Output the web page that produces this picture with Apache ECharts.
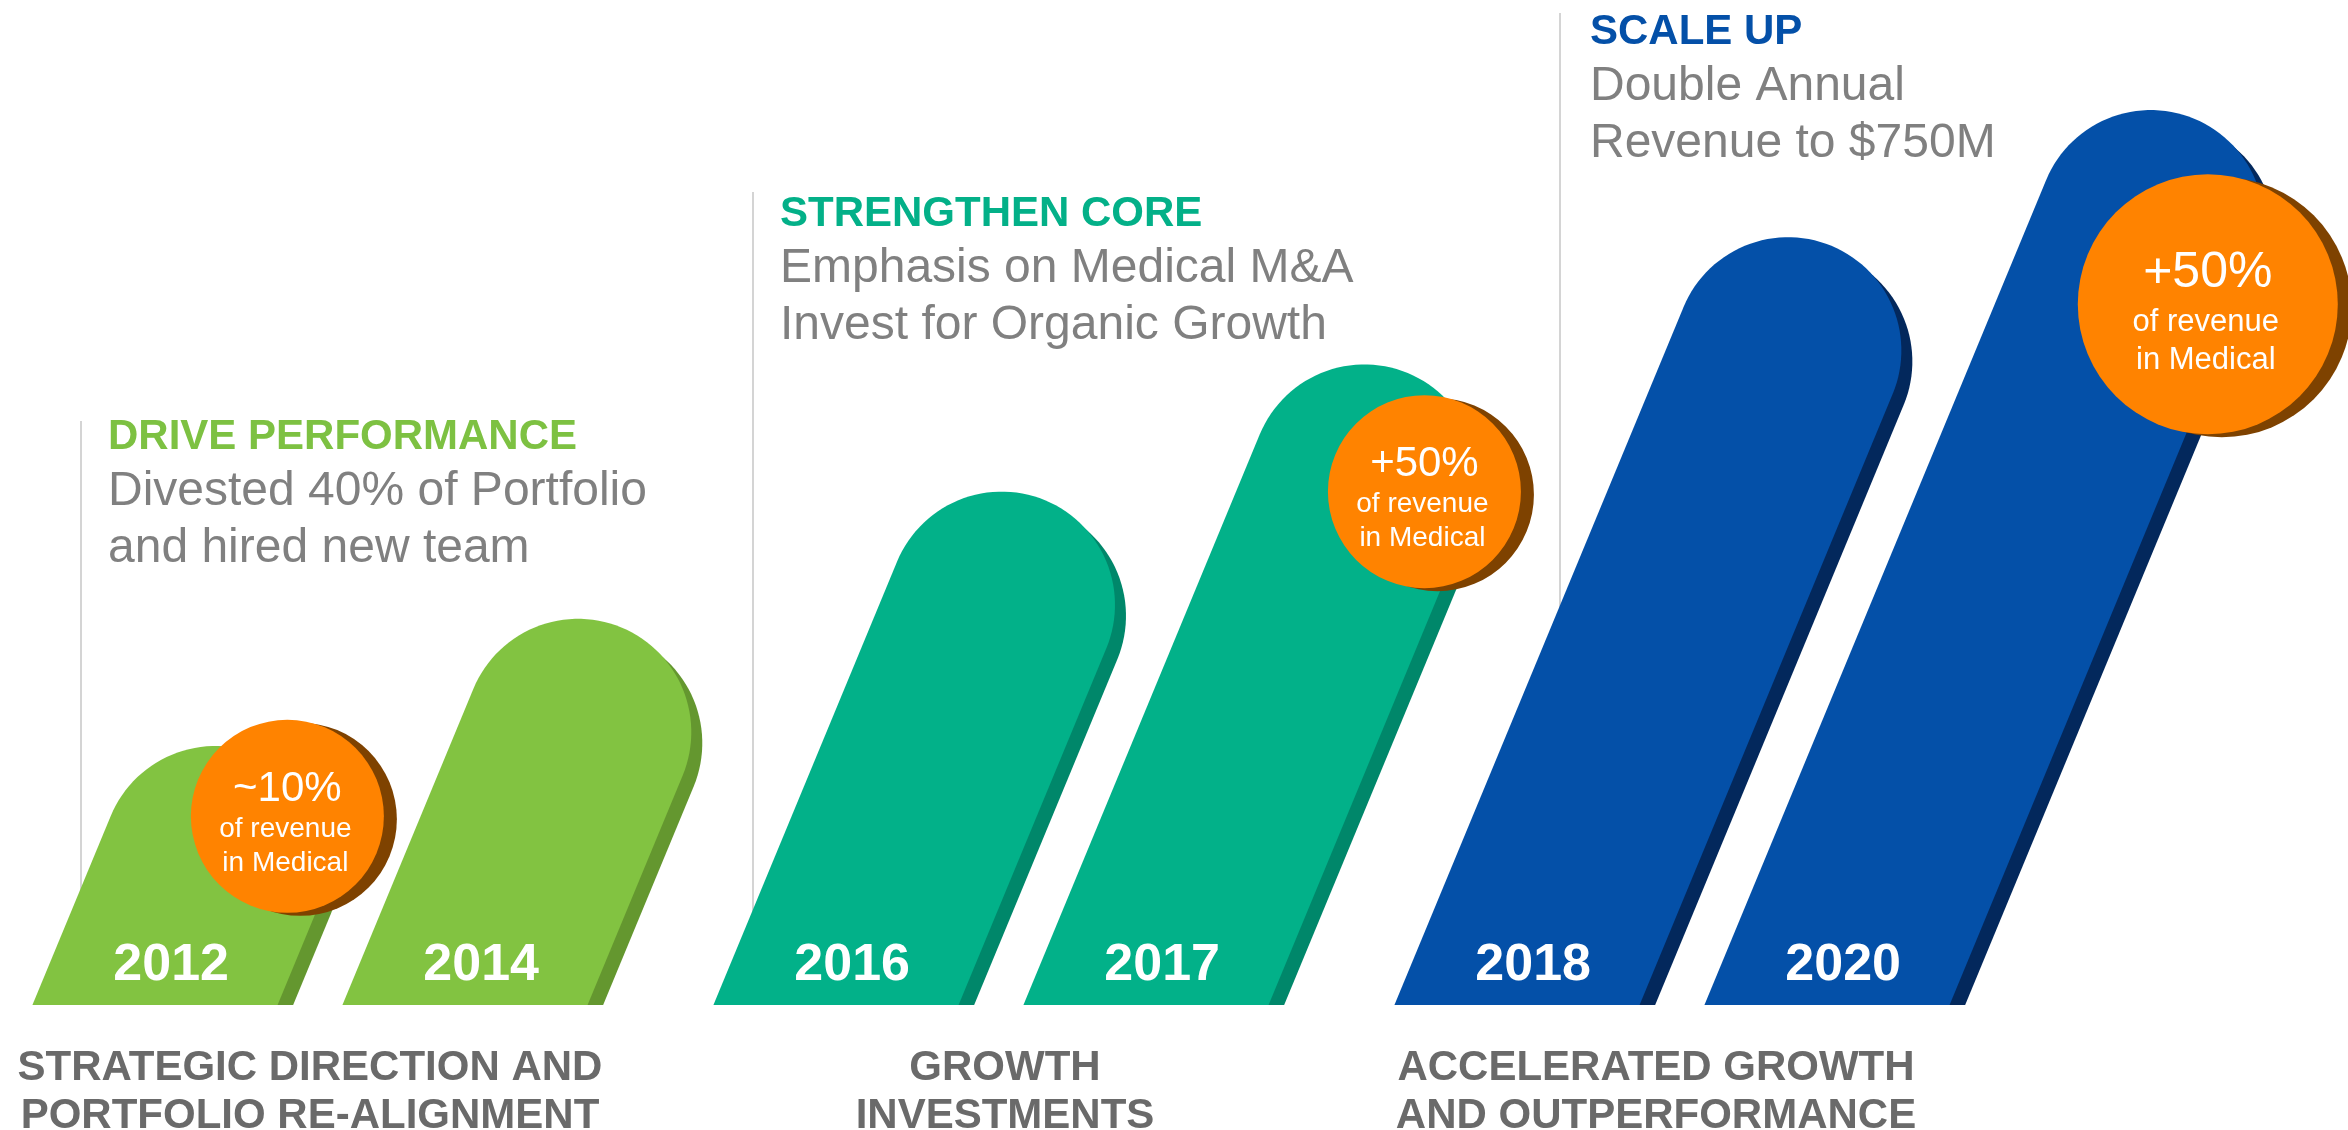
<!DOCTYPE html>
<html>
<head>
<meta charset="utf-8">
<script src="https://cdn.jsdelivr.net/npm/echarts@6/dist/echarts.min.js"></script>
<style>
  html, body { margin: 0; padding: 0; background: #fff; }
  #chart { width: 2348px; height: 1130px; }
</style>
</head>
<body>
<div id="chart"></div>
<script>
// phases along the bottom axis
var phases = ['STRATEGIC DIRECTION AND\nPORTFOLIO RE-ALIGNMENT', 'GROWTH\nINVESTMENTS', 'ACCELERATED GROWTH\nAND OUTPERFORMANCE']
var headings = ['DRIVE PERFORMANCE', 'STRENGTHEN CORE', 'SCALE UP']
var details = [
    ['Divested 40% of Portfolio', 'and hired new team'],
    ['Emphasis on Medical M&A', 'Invest for Organic Growth'],
    ['Double Annual', 'Revenue to $750M']
]

// one bar per year, grouped by phase
var years = ['2012', '2014', '2016', '2017', '2018', '2020']
var yearPhase = [0, 0, 1, 1, 2, 2]
var heights = [2, 3, 4, 5, 6, 7]
var badgeValues = ['~10%', '', '', '+50%', '', '+50%']
var badgeLines = ['of revenue', 'in Medical']

// colours, one per phase
var faceColors = ['#82C341', '#02B189', '#0450A8']
var sideColors = ['#64972F', '#00876A', '#03285C']
var headColors = ['#7DC142', '#03B088', '#0450A8']

// layout of the annotations (pixels)
var headingLayout = [
    { lineX: 81, lineTop: 421, textX: 108, base: 452 },
    { lineX: 753, lineTop: 192, textX: 780, base: 229 },
    { lineX: 1560, lineTop: 13, textX: 1590, base: 47 }
]
// small sideways nudge of each phase label: [left pad, right pad]
var labelPads = [[0, 0], [28, 0], [0, 32]]
// badge offset from the cap centre of its bar
var badgeLayout = {
    0: { dx: 72, dy: -43, r: 96.5, big: false },
    3: { dx: 60, dy: 14, r: 96.5, big: false },
    5: { dx: 57, dy: 81, r: 130, big: true }
}

const FONT = "'Liberation Sans', Arial, sans-serif"
const THETA = 22.5 * Math.PI / 180
const TAN = Math.tan(THETA)
const Y_MIN = -0.036
const BASE_Y = 1005

const slotOf = (i) => {
    let s = 0
    for (let k = 0; k < i; k++) if (yearPhase[k] === yearPhase[i]) s++
    return s
}

const capsule = (cx, cy, r, baseY) => {
    let pts = []
    let lx = cx - r * Math.cos(THETA), ly = cy - r * Math.sin(THETA)
    let rx = cx + r * Math.cos(THETA), ry = cy + r * Math.sin(THETA)
    pts.push([lx - (baseY - ly) * TAN, baseY])
    for (let i = 0; i <= 60; i++) {
        let a = Math.PI + THETA + Math.PI * i / 60
        pts.push([cx + r * Math.cos(a), cy + r * Math.sin(a)])
    }
    pts.push([rx - (baseY - ry) * TAN, baseY])
    return pts
}

const renderItem = (params, api) => {
    let phase = api.value(0)
    let slot = api.value(1)
    let h = api.value(2)
    let idx = api.value(3)
    let top = api.coord([phase, h])
    let baseY = api.coord([phase, Y_MIN])[1]
    let band = api.size([1, 0])[0]
    let baseW = band * 0.36
    let r = baseW * Math.cos(THETA) / 2
    let baseLeft = top[0] - baseW / 2 + (slot ? 1 : -1) * band * 0.2276
    let cy = top[1] + r
    let ly = cy - r * Math.sin(THETA)
    let cx = baseLeft + (baseY - ly) * TAN + r * Math.cos(THETA)

    let children = [
        { type: 'polygon', shape: { points: capsule(cx + 11, cy + 11, r, baseY) }, style: { fill: sideColors[phase] }, z2: 1 },
        { type: 'polygon', shape: { points: capsule(cx, cy, r, baseY) }, style: { fill: faceColors[phase] }, z2: 2 },
        {
            type: 'text', z2: 3,
            style: {
                text: years[idx], x: baseLeft + baseW / 2 + (baseY - 966) * TAN, y: 966,
                align: 'center', verticalAlign: 'middle',
                font: 'bold 52px ' + FONT, fill: '#fff'
            }
        }
    ]

    let b = badgeLayout[idx]
    if (badgeValues[idx] && b) {
        let bx = cx + b.dx, by = cy + b.dy
        let big = b.big
        children.push({ type: 'circle', shape: { cx: bx + (big ? 14 : 13), cy: by + 3, r: b.r }, style: { fill: '#7E4200' }, z2: 10 })
        children.push({ type: 'circle', shape: { cx: bx, cy: by, r: b.r }, style: { fill: '#FF8300' }, z2: 11 })
        children.push({
            type: 'text', z2: 12,
            style: {
                text: badgeValues[idx], x: bx, y: by + (big ? -31 : -27),
                align: 'center', verticalAlign: 'middle',
                font: (big ? '50px ' : '42px ') + FONT, fill: '#fff'
            }
        })
        badgeLines.forEach((t, k) => {
            children.push({
                type: 'text', z2: 12,
                style: {
                    text: t, x: bx - 2, y: by + (big ? [18, 56][k] : [13, 47][k]),
                    align: 'center', verticalAlign: 'middle',
                    font: (big ? '31px ' : '28px ') + FONT, fill: '#fff'
                }
            })
        })
    }
    return { type: 'group', children: children }
}

// phase annotations above the bars
let graphics = []
headingLayout.forEach((l, i) => {
    graphics.push({
        type: 'line', z: 0,
        shape: { x1: l.lineX, y1: l.lineTop, x2: l.lineX, y2: BASE_Y },
        style: { stroke: '#D4D4D4', lineWidth: 2 }
    })
    graphics.push({
        type: 'text', z: 5,
        style: {
            text: headings[i], x: l.textX, y: l.base - 14.6, verticalAlign: 'middle',
            font: 'bold 42px ' + FONT, fill: headColors[i]
        }
    })
    details[i].forEach((t, k) => {
        graphics.push({
            type: 'text', z: 5,
            style: {
                text: t, x: l.textX, y: l.base + 56 + 57 * k - 16.6, verticalAlign: 'middle',
                font: '48px ' + FONT, fill: '#808080'
            }
        })
    })
})

// rich styles so each phase label can be nudged a little
let labelRich = {}
labelPads.forEach((p, i) => {
    labelRich['p' + i] = {
        fontFamily: FONT, fontSize: 42, fontWeight: 'bold', lineHeight: 48,
        color: '#6A6A6A', padding: [0, p[1], 0, p[0]]
    }
})

let chart = echarts.init(document.getElementById('chart'), null, { renderer: 'canvas' })
chart.setOption({
    animation: false,
    backgroundColor: '#fff',
    grid: { left: -30.5, right: 335.5, top: 0, bottom: 125, outerBoundsMode: 'none' },
    xAxis: {
        type: 'category',
        data: phases,
        axisLine: { show: false },
        axisTick: { show: false },
        splitLine: { show: false },
        axisLabel: {
            interval: 0, margin: 39,
            fontFamily: FONT, fontSize: 42, fontWeight: 'bold',
            lineHeight: 48, color: '#6A6A6A', align: 'center',
            formatter: (val, i) => val.split('\n').map(s => '{p' + i + '|' + s + '}').join('\n'),
            rich: labelRich
        }
    },
    yAxis: {
        type: 'value', min: Y_MIN, max: 7.865, show: false,
        splitLine: { show: false }
    },
    graphic: graphics,
    series: [{
        type: 'custom',
        renderItem: renderItem,
        clip: false,
        data: years.map((y, i) => [yearPhase[i], slotOf(i), heights[i], i])
    }]
})
</script>
</body>
</html>
